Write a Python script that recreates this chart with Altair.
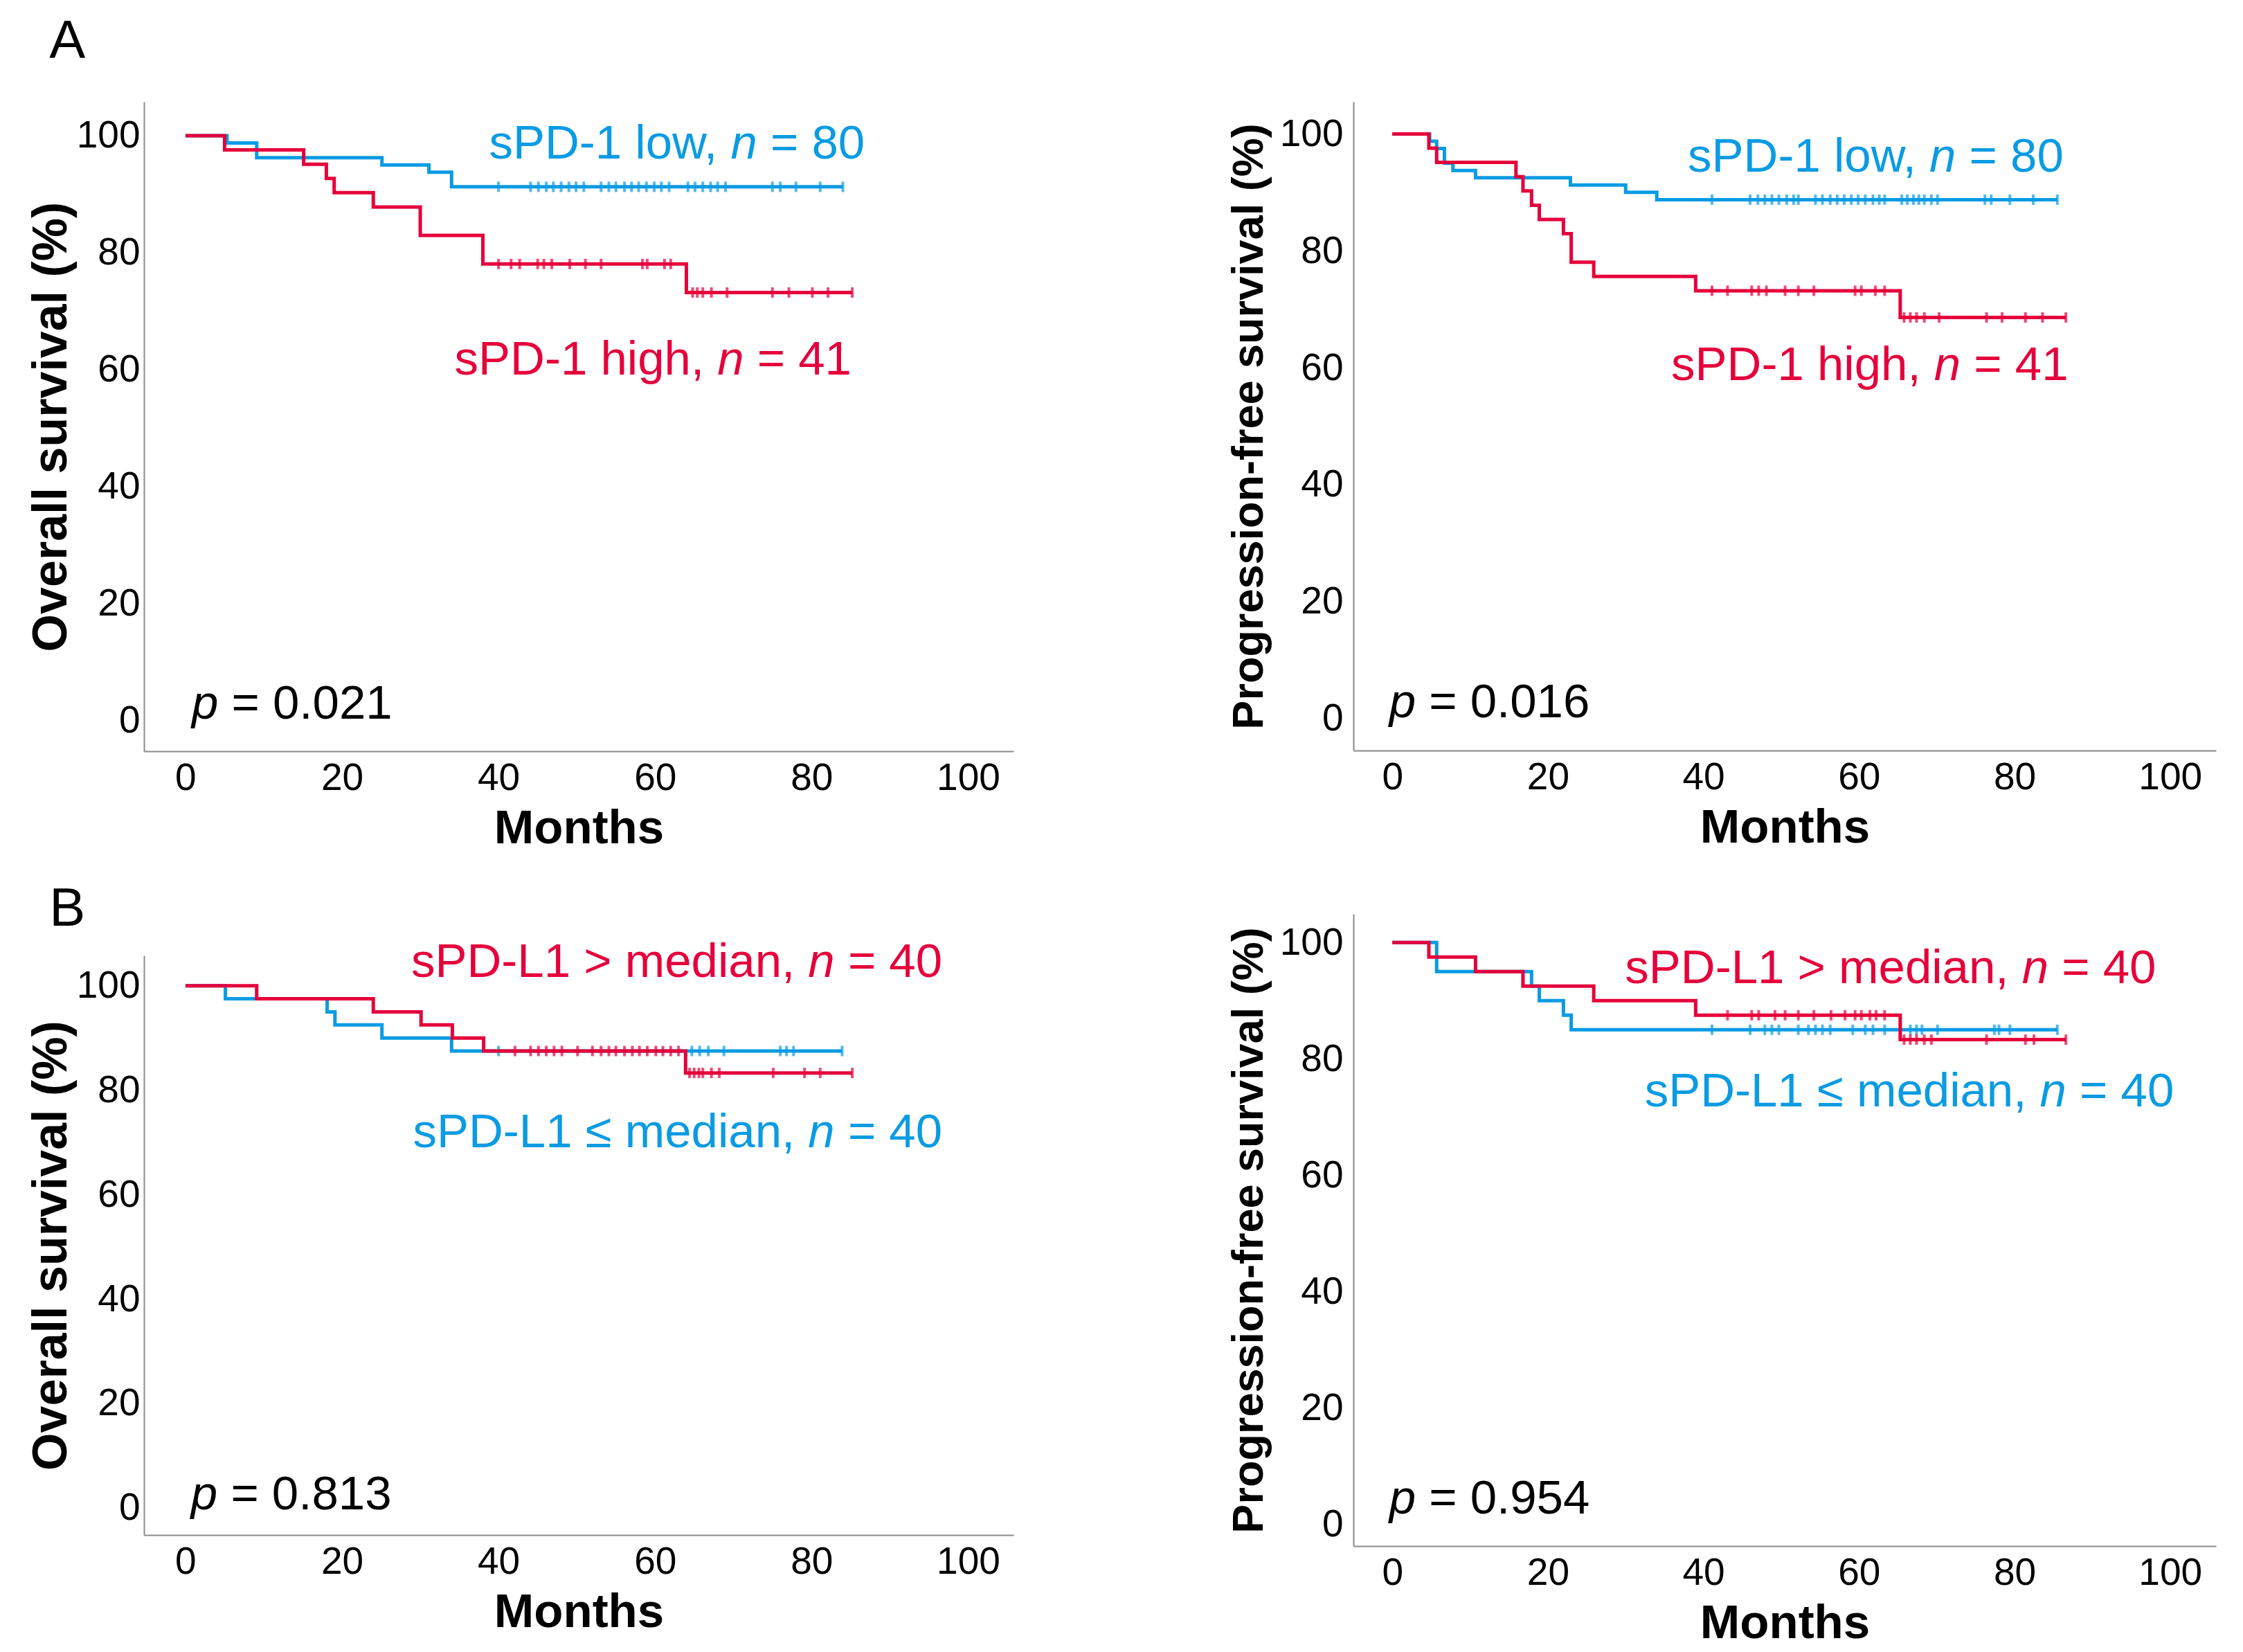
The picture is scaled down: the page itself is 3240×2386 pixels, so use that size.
import altair as alt
import pandas as pd

FONT = "Liberation Sans"
BLUE = "#0a9be3"
RED = "#e5003b"
AXIS_GREY = "#8a8a8a"

MONTH_TICKS = [0, 20, 40, 60, 80, 100]
SURV_TICKS = [0, 20, 40, 60, 80, 100]

# ---------------- Panel A, overall survival (sPD-1) ----------------
A_OS_LOW_T = [5.3, 9.1, 25.1, 31.1, 34.0]
A_OS_LOW_S = [98.75, 96.25, 95.0, 93.75, 91.25]
A_OS_LOW_END = 84.0
A_OS_LOW_CENS = [40.0, 44.1, 45.1, 46.1, 47.0, 48.0, 49.0, 49.9, 50.9, 53.1, 54.1, 55.0,
                 56.1, 57.0, 57.9, 58.9, 59.9, 60.8, 61.8, 64.2, 65.1, 66.1, 67.1, 68.0,
                 69.0, 75.0, 76.0, 78.0, 81.1, 84.0]
A_OS_HIGH_T = [5.0, 15.1, 18.0, 19.0, 24.0, 30.0, 38.0, 64.0]
A_OS_HIGH_S = [97.56, 95.12, 92.68, 90.24, 87.80, 82.93, 78.05, 73.17]
A_OS_HIGH_END = 85.2
A_OS_HIGH_CENS = [40.0, 41.6, 42.7, 45.0, 45.8, 46.8, 49.1, 51.1, 53.1, 58.4, 59.0, 61.2,
                  62.0, 64.8, 65.4, 66.1, 67.2, 69.2, 75.0, 77.1, 80.1, 82.1, 85.2]

# ---------------- Panel A, progression-free survival (sPD-1) ----------------
A_PFS_LOW_T = [4.8, 5.7, 6.7, 7.8, 10.7, 22.9, 30.0, 34.0]
A_PFS_LOW_S = [98.75, 97.5, 95.0, 93.75, 92.5, 91.25, 90.0, 88.75]
A_PFS_LOW_END = 85.5
A_PFS_LOW_CENS = [41.1, 46.0, 47.0, 47.9, 48.8, 49.7, 50.7, 51.6, 52.2, 54.4, 55.3, 56.3,
                  57.2, 58.1, 59.0, 59.9, 60.8, 61.8, 62.6, 63.3, 65.5, 66.2, 67.0, 67.7,
                  68.4, 69.3, 70.1, 76.2, 77.0, 79.4, 82.4, 85.5]
A_PFS_HIGH_T = [4.7, 5.7, 15.9, 16.8, 17.9, 18.9, 22.0, 23.0, 25.9, 39.0, 65.3]
A_PFS_HIGH_S = [97.56, 95.12, 92.68, 90.24, 87.80, 85.37, 82.93, 78.05, 75.61, 73.17, 68.6]
A_PFS_HIGH_END = 86.6
A_PFS_HIGH_CENS = [41.1, 43.1, 46.2, 47.1, 48.1, 50.5, 52.2, 54.2, 59.5, 60.3, 62.1, 63.3,
                   65.8, 66.6, 67.4, 68.4, 70.3, 76.4, 78.4, 81.4, 83.6, 86.6]

# ---------------- Panel B, overall survival (sPD-L1) ----------------
B_OS_LOW_T = [5.1, 18.1, 19.1, 25.1, 34.0]
B_OS_LOW_S = [97.5, 95.0, 92.5, 90.0, 87.5]
B_OS_LOW_END = 83.9
B_OS_LOW_CENS = [40.0, 64.7, 65.7, 66.8, 68.8, 76.0, 76.8, 77.7, 83.9]
B_OS_HIGH_T = [9.1, 24.0, 30.1, 34.1, 38.1, 63.9]
B_OS_HIGH_S = [97.5, 95.0, 92.5, 90.0, 87.5, 83.3]
B_OS_HIGH_END = 85.2
B_OS_HIGH_CENS = [42.1, 44.1, 45.1, 46.1, 47.1, 48.1, 50.1, 52.0, 53.1, 54.1, 55.0, 56.1,
                  57.1, 58.0, 59.0, 60.1, 61.0, 62.0, 63.0, 64.4, 65.0, 65.6, 66.1, 67.2,
                  68.2, 75.1, 79.1, 81.1, 85.2]

# ---------------- Panel B, progression-free survival (sPD-L1) ----------------
B_PFS_LOW_T = [5.7, 17.9, 18.9, 22.0, 23.0]
B_PFS_LOW_S = [95.0, 92.5, 90.0, 87.5, 85.0]
B_PFS_LOW_END = 85.5
B_PFS_LOW_CENS = [41.1, 46.0, 47.9, 48.8, 49.7, 52.2, 53.5, 54.4, 55.3, 56.3, 59.2, 60.8,
                  61.8, 63.3, 66.6, 67.4, 68.1, 70.1, 77.4, 78.0, 79.4, 85.5]
B_PFS_HIGH_T = [4.7, 10.7, 16.8, 25.9, 39.0, 65.3]
B_PFS_HIGH_S = [97.5, 95.0, 92.5, 90.0, 87.5, 83.3]
B_PFS_HIGH_END = 86.6
B_PFS_HIGH_CENS = [43.1, 46.2, 47.1, 49.2, 50.5, 52.2, 54.2, 56.4, 58.2, 59.5, 60.3, 61.4,
                   62.2, 63.3, 65.8, 66.6, 67.4, 68.4, 69.3, 76.4, 81.4, 82.5, 86.6]

# ---------------- annotation texts ----------------
A_LOW_LABEL = ("sPD-1 low,", "= 80")
A_HIGH_LABEL = ("sPD-1 high,", "= 41")
B_HIGH_LABEL = ("sPD-L1 > median,", "= 40")
B_LOW_LABEL = ("sPD-L1 \u2264 median,", "= 40")
P_VALUES = ["= 0.021", "= 0.016", "= 0.813", "= 0.954"]

# Arial / Liberation Sans advance widths (per 1000 em) used for italic pieces
W = {" ": 278, ",": 278, "-": 333, ".": 278, "=": 584, ">": 584, "\u2264": 549,
     "D": 722, "L": 556, "P": 667, "a": 556, "d": 556, "e": 556, "g": 556,
     "h": 556, "i": 222, "l": 222, "m": 833, "n": 556, "o": 556, "p": 556,
     "s": 500, "w": 722}


def tw(s, fs):
    return sum(W.get(c, 556) for c in s) * fs / 1000.0


def step_df(t, s, end):
    return pd.DataFrame({"month": [0.0] + list(t) + [end],
                         "surv": [100.0] + list(s) + [s[-1]],
                         "i": list(range(len(t) + 2))})


def cens_df(t, s, cens):
    vals = []
    for m in cens:
        v = 100.0
        for tt, ss in zip(t, s):
            if tt <= m:
                v = ss
        vals.append(v)
    return pd.DataFrame({"month": cens, "surv": vals})


ANN_FS = 69


def make_panel(curves, labels, pval, xdom, ydom, width, height, ytitle, ytitle_size,
               ylabel_pad, ytitle_pad, letter=None):
    xs = alt.Scale(domain=xdom, nice=False, zero=False)
    ys = alt.Scale(domain=ydom, nice=False, zero=False)
    xaxis = alt.Axis(values=MONTH_TICKS, title="Months", titleFont=FONT, labelFont=FONT,
                     titleFontSize=69, titleFontWeight="bold", labelFontSize=55,
                     labelPadding=12, titlePadding=11, ticks=False, tickSize=0,
                     domainColor=AXIS_GREY, domainWidth=2, grid=False, labelFlush=False,
                     labelColor="black", titleColor="black", labelOverlap=False)
    yaxis = alt.Axis(values=SURV_TICKS, title=ytitle, titleFont=FONT, labelFont=FONT,
                     titleFontSize=ytitle_size, titleFontWeight="bold", labelFontSize=55,
                     labelPadding=ylabel_pad, titlePadding=ytitle_pad, ticks=False, tickSize=0,
                     domainColor=AXIS_GREY, domainWidth=2, grid=False, labelFlush=False,
                     labelColor="black", titleColor="black", labelOverlap=False)

    def X():
        return alt.X("month:Q", scale=xs, axis=xaxis)

    def Y():
        return alt.Y("surv:Q", scale=ys, axis=yaxis)

    layers = []
    for (t, s, end, cens, color) in curves:
        layers.append(alt.Chart(step_df(t, s, end)).mark_line(
            interpolate="step-after", color=color, strokeWidth=5, clip=False
        ).encode(x=X(), y=Y(), order="i:Q"))
        layers.append(alt.Chart(cens_df(t, s, cens)).mark_tick(
            orient="vertical", color=color, size=15, thickness=4
        ).encode(x=X(), y=Y()))

    for (prefix, suffix, right_m, base_s, color) in labels:
        d_suffix = tw(" " + suffix, ANN_FS)
        pieces = [(suffix, "normal", 0.0),
                  ("n", "italic", -d_suffix),
                  (prefix, "normal", -(d_suffix + tw("n ", ANN_FS)))]
        for txt, style, dx in pieces:
            df = pd.DataFrame({"month": [right_m], "surv": [base_s], "label": [txt]})
            layers.append(alt.Chart(df).mark_text(
                align="right", baseline="alphabetic", font=FONT, fontSize=ANN_FS,
                fontStyle=style, color=color, dx=dx
            ).encode(x=X(), y=Y(), text="label:N"))

    p_txt, p_m, p_s = pval
    for txt, style, dx in [("p", "italic", 0.0), (p_txt, "normal", tw("p ", ANN_FS))]:
        df = pd.DataFrame({"month": [p_m], "surv": [p_s], "label": [txt]})
        layers.append(alt.Chart(df).mark_text(
            align="left", baseline="alphabetic", font=FONT, fontSize=ANN_FS,
            fontStyle=style, color="black", dx=dx
        ).encode(x=X(), y=Y(), text="label:N"))

    if letter is not None:
        txt, lm, ls, op = letter
        df = pd.DataFrame({"month": [lm], "surv": [ls], "label": [txt]})
        layers.append(alt.Chart(df).mark_text(
            align="center", baseline="middle", font=FONT, fontSize=78,
            color="black", opacity=op
        ).encode(x=X(), y=Y(), text="label:N"))

    return alt.layer(*layers).properties(width=width, height=height)


AL = make_panel(
    curves=[(A_OS_LOW_T, A_OS_LOW_S, A_OS_LOW_END, A_OS_LOW_CENS, BLUE),
            (A_OS_HIGH_T, A_OS_HIGH_S, A_OS_HIGH_END, A_OS_HIGH_CENS, RED)],
    labels=[(A_LOW_LABEL[0], A_LOW_LABEL[1], 86.8, 96.1, BLUE),
            (A_HIGH_LABEL[0], A_HIGH_LABEL[1], 85.1, 59.1, RED)],
    pval=(P_VALUES[0], 0.8, 0.3),
    xdom=[-5.3, 105.8], ydom=[-5.3, 105.8], width=1256, height=938,
    ytitle="Overall survival (%)", ytitle_size=70, ylabel_pad=6, ytitle_pad=0,
    letter=("A", -15.1, 116.0, 1.0))

AR = make_panel(
    curves=[(A_PFS_LOW_T, A_PFS_LOW_S, A_PFS_LOW_END, A_PFS_LOW_CENS, BLUE),
            (A_PFS_HIGH_T, A_PFS_HIGH_S, A_PFS_HIGH_END, A_PFS_HIGH_CENS, RED)],
    labels=[(A_LOW_LABEL[0], A_LOW_LABEL[1], 86.3, 93.5, BLUE),
            (A_HIGH_LABEL[0], A_HIGH_LABEL[1], 86.9, 57.9, RED)],
    pval=(P_VALUES[1], -0.4, 0.2),
    xdom=[-5.0, 105.9], ydom=[-5.5, 105.5], width=1246, height=937,
    ytitle="Progression-free survival (%)", ytitle_size=63, ylabel_pad=15, ytitle_pad=12,
    letter=("A", 50.0, 115.8, 0.0))

BL = make_panel(
    curves=[(B_OS_LOW_T, B_OS_LOW_S, B_OS_LOW_END, B_OS_LOW_CENS, BLUE),
            (B_OS_HIGH_T, B_OS_HIGH_S, B_OS_HIGH_END, B_OS_HIGH_CENS, RED)],
    labels=[(B_HIGH_LABEL[0], B_HIGH_LABEL[1], 96.7, 101.7, RED),
            (B_LOW_LABEL[0], B_LOW_LABEL[1], 96.7, 69.0, BLUE)],
    pval=(P_VALUES[2], 0.7, -0.3),
    xdom=[-5.3, 105.8], ydom=[-5.2, 105.8], width=1256, height=837,
    ytitle="Overall survival (%)", ytitle_size=70, ylabel_pad=6, ytitle_pad=0,
    letter=("B", -15.1, 114.6, 1.0))

BR = make_panel(
    curves=[(B_PFS_LOW_T, B_PFS_LOW_S, B_PFS_LOW_END, B_PFS_LOW_CENS, BLUE),
            (B_PFS_HIGH_T, B_PFS_HIGH_S, B_PFS_HIGH_END, B_PFS_HIGH_CENS, RED)],
    labels=[(B_HIGH_LABEL[0], B_HIGH_LABEL[1], 98.2, 93.0, RED),
            (B_LOW_LABEL[0], B_LOW_LABEL[1], 100.5, 71.8, BLUE)],
    pval=(P_VALUES[3], -0.4, 1.9),
    xdom=[-5.0, 105.9], ydom=[-3.7, 104.9], width=1246, height=913,
    ytitle="Progression-free survival (%)", ytitle_size=63, ylabel_pad=15, ytitle_pad=12)

left_col = alt.vconcat(AL, BL, spacing=43)
right_col = alt.vconcat(AR, BR, spacing=90)

chart = alt.hconcat(left_col, right_col, spacing=309).properties(
    padding={"left": 31, "top": 13, "right": 5, "bottom": 5},
    background="white",
).configure_view(stroke=None)

chart.save("out.html", embed_options={"renderer": "svg", "actions": False})
